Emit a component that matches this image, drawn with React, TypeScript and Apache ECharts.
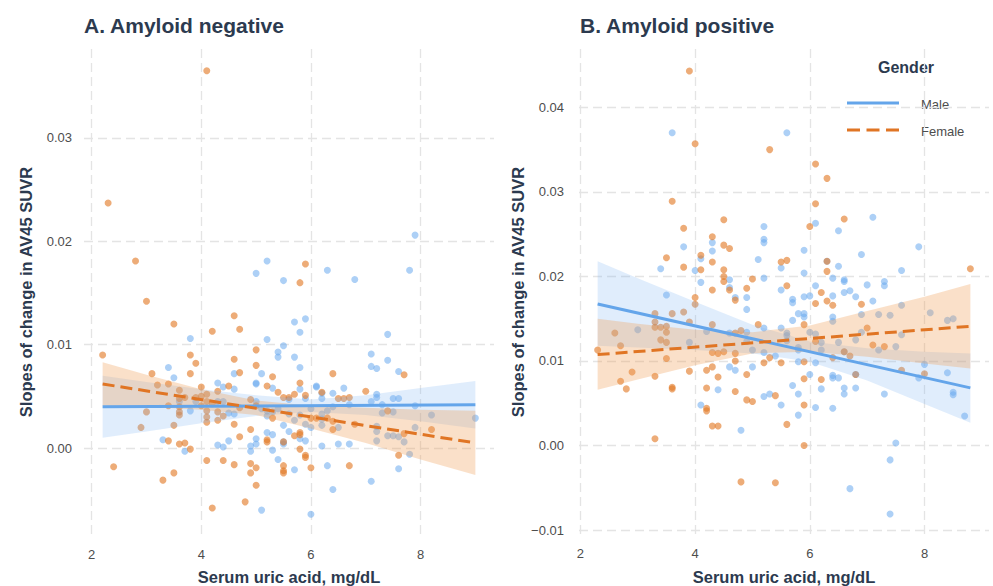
import React, { useEffect, useRef } from 'react';
import * as echarts from 'echarts';

const X_TICKS = [2, 4, 6, 8];
const Y_TICKS_A = [0, 0.01, 0.02, 0.03];
const Y_TICKS_B = [-0.01, 0, 0.01, 0.02, 0.03, 0.04];

const TITLE_A = 'A. Amyloid negative';
const TITLE_B = 'B. Amyloid positive';
const X_NAME = 'Serum uric acid, mg/dL';
const Y_NAME = 'Slopes of change in AV45 SUVR';
const LEGEND_TITLE = 'Gender';
const LEGEND_MALE = 'Male';
const LEGEND_FEMALE = 'Female';

// Panel A (amyloid negative) points [uric acid, slope]
const A_MALE = [
  [5.0, 0.0169], [5.2, 0.0181], [5.5, 0.0162], [6.3, 0.0172], [6.8, 0.0163], [7.8, 0.0172], [7.9, 0.0206],
  [5.7, 0.0122], [5.9, 0.0125], [5.8, 0.0112], [7.4, 0.0110], [3.8, 0.0106], [5.2, 0.0105], [5.5, 0.0099],
  [5.4, 0.0093], [5.4, 0.0088], [7.1, 0.0091], [5.7, 0.0088], [7.4, 0.0085], [7.1, 0.0079], [7.2, 0.0077],
  [3.4, 0.0078], [5.8, 0.0078], [4.6, 0.0072], [5.1, 0.0072], [7.6, 0.0074], [3.5, 0.0068], [4.3, 0.0063],
  [5.0, 0.0063], [5.0, 0.0062], [4.4, 0.0059], [5.3, 0.0058], [5.8, 0.0057], [6.1, 0.0059], [6.1, 0.0060],
  [6.6, 0.0058], [4.6, 0.0057], [6.2, 0.0053], [6.4, 0.0053], [7.2, 0.0052], [3.9, 0.0045], [5.6, 0.0047],
  [5.9, 0.0048], [6.7, 0.0042], [6.2, 0.0048], [7.2, 0.0049], [7.5, 0.0048], [7.6, 0.0048], [7.1, 0.0045],
  [4.3, 0.0045], [4.4, 0.0045], [5.0, 0.0045], [3.6, 0.0045], [5.1, 0.0038], [5.2, 0.0036], [5.4, 0.0038],
  [6.0, 0.0038], [6.4, 0.0040], [6.3, 0.0036], [7.3, 0.0042], [7.3, 0.0034], [7.5, 0.0035], [7.9, 0.0041],
  [3.8, 0.0036], [4.5, 0.0034], [4.6, 0.0033], [5.2, 0.0031], [5.3, 0.0035], [5.6, 0.0033], [5.8, 0.0032],
  [6.2, 0.0033], [6.2, 0.0028], [6.2, 0.0022], [8.2, 0.0032], [9.0, 0.0029], [5.7, 0.0027], [5.9, 0.0023],
  [6.0, 0.0020], [5.5, 0.0022], [6.5, 0.0020], [7.2, 0.0021], [7.2, 0.0016], [7.2, 0.0007], [7.9, 0.0020],
  [5.6, 0.0016], [5.2, 0.0015], [5.3, 0.0013], [7.4, 0.0012], [7.5, 0.0012], [7.6, 0.0011], [5.0, 0.0009],
  [5.8, 0.0009], [5.9, 0.0007], [3.3, 0.0008], [4.5, 0.0007], [5.0, 0.0004], [5.5, 0.0006], [5.5, 0.0004],
  [7.7, 0.0006], [6.5, 0.0004], [6.7, 0.0004], [3.7, -0.0003], [4.3, 0.0003], [4.4, 0.0001], [4.9, 0.0002],
  [4.9, -0.0003], [5.3, -0.0002], [6.2, 0.0002], [7.8, -0.0006], [5.4, -0.0011], [6.3, -0.0017],
  [5.7, -0.0021], [7.6, -0.0020], [7.1, -0.0032], [6.4, -0.0040], [5.1, -0.0060], [6.0, -0.0064],
];
const A_FEMALE = [
  [4.1, 0.0365], [2.3, 0.0237], [2.8, 0.0181], [5.9, 0.0178], [5.8, 0.0160],
  [3.0, 0.0142], [4.6, 0.0128], [3.5, 0.0120], [4.7, 0.0115], [4.2, 0.0113], [5.0, 0.0095], [2.2, 0.0090],
  [3.8, 0.0090], [3.9, 0.0082], [4.6, 0.0086], [5.0, 0.0080], [3.1, 0.0072], [3.8, 0.0072], [4.7, 0.0073],
  [6.4, 0.0072], [7.7, 0.0071], [5.3, 0.0069], [3.2, 0.0061], [3.4, 0.0062], [4.5, 0.0060], [4.0, 0.0059],
  [5.2, 0.0060], [5.8, 0.0063], [3.6, 0.0056], [4.3, 0.0055], [4.1, 0.0052], [5.4, 0.0054], [6.2, 0.0054],
  [7.0, 0.0055], [3.9, 0.0049], [4.0, 0.0050], [3.6, 0.0048], [3.7, 0.0049], [5.6, 0.0049], [5.5, 0.0049],
  [5.7, 0.0052], [5.9, 0.0051], [6.5, 0.0048], [6.6, 0.0048], [6.7, 0.0049], [4.9, 0.0047], [4.1, 0.0045],
  [4.2, 0.0043], [4.0, 0.0041], [3.4, 0.0041], [3.6, 0.0040], [4.7, 0.0039], [5.0, 0.0041], [7.4, 0.0036],
  [3.0, 0.0035], [3.6, 0.0035], [3.6, 0.0032], [4.1, 0.0036], [4.3, 0.0035], [5.3, 0.0029], [6.0, 0.0029],
  [6.1, 0.0029], [6.3, 0.0029], [4.4, 0.0031], [4.1, 0.0030], [4.1, 0.0025], [4.3, 0.0027], [6.4, 0.0026],
  [3.5, 0.0022], [2.9, 0.0020], [4.6, 0.0023], [6.8, 0.0023], [6.4, 0.0018], [8.2, 0.0018], [4.9, 0.0018],
  [5.8, 0.0015], [5.8, 0.0013], [5.7, 0.0012], [7.7, 0.0014], [4.7, 0.0011], [5.2, 0.0008], [5.2, 0.0006],
  [3.4, 0.0007], [5.5, 0.0006], [3.6, 0.0004], [3.7, 0.0005], [3.8, -0.0001], [5.8, -0.0001], [5.9, -0.0007],
  [5.9, -0.0009], [7.6, -0.0007], [4.1, -0.0012], [4.4, -0.0012], [4.6, -0.0016], [4.9, -0.0015],
  [2.4, -0.0018], [6.0, -0.0019], [6.7, -0.0017], [5.0, -0.0019], [4.9, -0.0024], [5.5, -0.0017],
  [5.5, -0.0022], [5.5, -0.0024], [3.5, -0.0024], [3.3, -0.0031], [5.0, -0.0036], [4.8, -0.0052], [4.2, -0.0058],
];

// Panel B (amyloid positive)
const B_MALE = [
  [3.6, 0.0370], [5.6, 0.0370], [6.1, 0.0263], [7.1, 0.0270], [5.2, 0.0259], [6.5, 0.0254], [5.2, 0.0244],
  [5.2, 0.0240], [4.3, 0.0240], [3.8, 0.0235], [7.9, 0.0235], [5.9, 0.0231], [4.3, 0.0230], [6.9, 0.0226],
  [4.1, 0.0221], [5.1, 0.0220], [6.3, 0.0218], [6.5, 0.0212], [3.4, 0.0209], [4.0, 0.0207], [5.5, 0.0210],
  [7.6, 0.0207], [5.9, 0.0204], [6.4, 0.0198], [6.6, 0.0196], [6.6, 0.0194], [5.2, 0.0198], [4.6, 0.0196],
  [4.1, 0.0193], [7.3, 0.0194], [7.3, 0.0189], [7.0, 0.0190], [6.1, 0.0189], [4.6, 0.0187], [5.5, 0.0184],
  [6.7, 0.0183], [6.6, 0.0181],
  [3.5, 0.0178], [4.7, 0.0175], [4.9, 0.0175], [5.7, 0.0173], [5.7, 0.0169], [5.9, 0.0176], [6.0, 0.0177],
  [6.4, 0.0177], [6.8, 0.0176], [7.1, 0.0171], [7.6, 0.0166], [4.9, 0.0161], [8.1, 0.0157], [6.9, 0.0155],
  [7.2, 0.0155], [7.4, 0.0154], [5.8, 0.0156], [5.9, 0.0156], [5.9, 0.0152], [6.4, 0.0152], [6.4, 0.0147],
  [8.4, 0.0148], [8.5, 0.0150], [5.7, 0.0148], [5.2, 0.0139], [3.0, 0.0137], [4.2, 0.0135], [4.9, 0.0134],
  [4.6, 0.0133], [5.5, 0.0139], [5.6, 0.0133], [5.6, 0.0130], [6.0, 0.0134], [6.1, 0.0132], [6.9, 0.0134],
  [7.6, 0.0131], [6.8, 0.0125], [6.5, 0.0122], [6.2, 0.0122], [3.9, 0.0122], [4.9, 0.0123], [7.5, 0.0117],
  [7.2, 0.0113], [5.0, 0.0113], [5.6, 0.0124], [5.8, 0.0116], [5.8, 0.0113], [6.2, 0.0113], [6.6, 0.0111],
  [5.2, 0.0110], [5.4, 0.0106], [6.1, 0.0098], [5.8, 0.0099], [8.0, 0.0096], [4.6, 0.0093], [4.7, 0.0089],
  [5.0, 0.0093], [8.4, 0.0086], [6.8, 0.0084], [6.0, 0.0084], [6.4, 0.0083], [6.4, 0.0080], [6.5, 0.0080],
  [7.9, 0.0080], [4.4, 0.0066], [5.7, 0.0071], [6.2, 0.0067], [6.6, 0.0068], [6.6, 0.0061], [6.8, 0.0068],
  [5.3, 0.0061], [5.2, 0.0058], [5.8, 0.0061], [7.3, 0.0061], [8.5, 0.0063], [8.5, 0.0060], [4.1, 0.0048],
  [5.5, 0.0048], [6.1, 0.0045], [6.4, 0.0044], [5.8, 0.0036], [8.7, 0.0035], [4.8, 0.0018], [7.5, 0.0003],
  [7.4, -0.0017], [6.7, -0.0051], [7.4, -0.0081],
];
const B_FEMALE = [
  [3.9, 0.0443], [4.0, 0.0357], [5.3, 0.0350], [6.1, 0.0333], [6.3, 0.0316], [3.6, 0.0289], [6.1, 0.0286],
  [4.5, 0.0267], [6.6, 0.0268], [3.8, 0.0257], [6.0, 0.0259], [4.3, 0.0247], [4.5, 0.0237], [4.6, 0.0233],
  [4.1, 0.0225], [3.5, 0.0222], [5.6, 0.0219], [5.5, 0.0217], [6.3, 0.0218], [4.3, 0.0217], [3.8, 0.0211],
  [4.1, 0.0208], [4.5, 0.0208], [8.8, 0.0209], [6.3, 0.0206], [4.5, 0.0200], [5.0, 0.0197], [4.5, 0.0194],
  [5.6, 0.0189], [4.9, 0.0186], [4.3, 0.0184], [4.6, 0.0184], [6.2, 0.0181],
  [4.0, 0.0175], [4.7, 0.0172], [6.1, 0.0168], [6.3, 0.0171], [6.4, 0.0166], [6.9, 0.0167], [4.0, 0.0167],
  [3.3, 0.0156], [3.6, 0.0156], [3.8, 0.0158], [3.9, 0.0146], [3.3, 0.0146], [3.3, 0.0140], [3.4, 0.0140],
  [3.5, 0.0141], [3.5, 0.0134], [4.3, 0.0143], [5.1, 0.0143], [5.9, 0.0143], [2.6, 0.0133], [4.8, 0.0136],
  [4.7, 0.0133], [7.0, 0.0139], [6.1, 0.0123], [3.4, 0.0125], [3.5, 0.0122], [2.7, 0.0118], [7.1, 0.0119],
  [7.3, 0.0117], [6.6, 0.0111], [2.3, 0.0113], [4.3, 0.0110], [4.4, 0.0109], [4.5, 0.0111], [4.7, 0.0109],
  [5.3, 0.0104], [6.7, 0.0106], [6.4, 0.0104], [3.5, 0.0103], [4.7, 0.0100], [5.5, 0.0098], [5.2, 0.0098],
  [5.9, 0.0099], [4.3, 0.0093], [4.2, 0.0089], [3.9, 0.0088], [2.9, 0.0087], [7.6, 0.0089], [8.0, 0.0085],
  [6.8, 0.0084], [4.9, 0.0084], [3.3, 0.0082], [4.4, 0.0081], [5.9, 0.0079], [6.2, 0.0078], [2.7, 0.0076],
  [2.8, 0.0067], [3.6, 0.0069], [3.6, 0.0067], [4.2, 0.0068], [4.7, 0.0064], [5.4, 0.0059], [4.9, 0.0054],
  [5.0, 0.0052], [5.9, 0.0048], [4.2, 0.0044], [4.2, 0.0041], [5.6, 0.0025], [4.3, 0.0023], [4.4, 0.0023],
  [3.3, 0.0008], [5.9, 0.0000], [4.8, -0.0043], [5.4, -0.0044],
];

// Fitted lines (end points) and confidence bands
const A_FIT_X = [2.2, 9.0];
const A_MALE_FIT = [0.0040, 0.0042];
const A_FEMALE_FIT = [0.0062, 0.0005];
const A_BAND_X = [2.2, 3, 4, 5, 6, 7, 8, 9.0];
const A_MALE_UP = [0.0070, 0.0064, 0.0057, 0.0051, 0.0047, 0.0051, 0.0058, 0.0065];
const A_MALE_LO = [0.0010, 0.0016, 0.0024, 0.0031, 0.0035, 0.0032, 0.0026, 0.0019];
const A_FEMALE_UP = [0.0083, 0.0071, 0.0057, 0.0046, 0.0041, 0.0039, 0.0037, 0.0036];
const A_FEMALE_LO = [0.0041, 0.0040, 0.0037, 0.0032, 0.0019, 0.0005, -0.0011, -0.0026];

const B_FIT_X = [2.3, 8.8];
const B_MALE_FIT = [0.01675, 0.00682];
const B_FEMALE_FIT = [0.01076, 0.0141];
const B_BAND_X = [2.3, 3, 4, 5, 6, 7, 8, 8.8];
const B_MALE_UP = [0.0218, 0.0198, 0.0170, 0.0143, 0.0123, 0.0115, 0.0111, 0.0109];
const B_MALE_LO = [0.0118, 0.0116, 0.0113, 0.0109, 0.0099, 0.0077, 0.0049, 0.0027];
const B_FEMALE_UP = [0.0150, 0.0144, 0.0137, 0.0134, 0.0142, 0.0159, 0.0176, 0.0191];
const B_FEMALE_LO = [0.0066, 0.0078, 0.0095, 0.0109, 0.0111, 0.0105, 0.0097, 0.0091];

const FONT = '"Liberation Sans", Arial, Helvetica, sans-serif';
const DARK = '#2c3a4f';
const TICK = '#4d4d4d';
const GRIDC = '#e4e4e4';
const MALE_PT = 'rgba(104,168,238,0.68)';
const FEMALE_PT = 'rgba(226,122,38,0.78)';
const MALE_LINE = '#64a5ea';
const FEMALE_LINE = '#e07524';
const MALE_BAND = 'rgba(125,178,242,0.24)';
const FEMALE_BAND = 'rgba(240,158,88,0.32)';

const fmtY = (v: number) => (v < -1e-9 ? '\u2212' : '') + Math.abs(v).toFixed(2);

function xAxisOpt(gi: number, min: number, max: number) {
  return {
    type: 'value', gridIndex: gi, min, max,
    axisLine: { show: false },
    axisTick: { show: false, customValues: X_TICKS },
    axisLabel: { customValues: X_TICKS, color: TICK, fontSize: 13, fontFamily: FONT, margin: 11 },
    splitLine: { show: true, lineStyle: { color: GRIDC, width: 1.3, type: [9, 5] } },
  };
}
function yAxisOpt(gi: number, min: number, max: number, ticks: number[], margin: number) {
  return {
    type: 'value', gridIndex: gi, min, max,
    axisLine: { show: false },
    axisTick: { show: false, customValues: ticks },
    axisLabel: { customValues: ticks, color: TICK, fontSize: 13, fontFamily: FONT, margin, formatter: fmtY },
    splitLine: { show: true, lineStyle: { color: GRIDC, width: 1.3, type: [9, 5] } },
  };
}

function scatter(data: number[][], color: string, idx: number) {
  return {
    type: 'scatter', xAxisIndex: idx, yAxisIndex: idx, data, symbolSize: 7, z: 2,
    itemStyle: { color }, silent: true,
  };
}
function band(xs: number[], up: number[], lo: number[], color: string, idx: number) {
  return {
    type: 'custom', xAxisIndex: idx, yAxisIndex: idx, z: 3, silent: true,
    data: [[xs[Math.floor(xs.length / 2)], (up[0] + lo[0]) / 2]],
    renderItem: (_p: any, api: any) => {
      const pts: number[][] = [];
      for (let i = 0; i < xs.length; i++) pts.push(api.coord([xs[i], up[i]]));
      for (let i = xs.length - 1; i >= 0; i--) pts.push(api.coord([xs[i], lo[i]]));
      return { type: 'polygon', shape: { points: pts }, style: { fill: color } };
    },
  };
}
function fit(xs: number[], ys: number[], color: string, dashed: boolean, idx: number) {
  return {
    type: 'line', xAxisIndex: idx, yAxisIndex: idx, z: 4, silent: true, showSymbol: false, symbol: 'none',
    data: xs.map((x, i) => [x, ys[i]]),
    lineStyle: { color, width: 3, type: dashed ? [12, 6] : 'solid' },
  };
}

export default function App() {
  const ref = useRef<HTMLDivElement>(null);
  useEffect(() => {
    if (!ref.current) return;
    const chart = echarts.init(ref.current, undefined, { renderer: 'svg' });
    chart.setOption({
      animation: false,
      backgroundColor: '#ffffff',
      textStyle: { fontFamily: FONT },
      grid: [
        { left: 84, top: 49, width: 410, height: 488 },
        { left: 579, top: 49, width: 410, height: 487 },
      ],
      xAxis: [xAxisOpt(0, 1.86, 9.34), xAxisOpt(1, 1.975, 9.125)],
      yAxis: [
        yAxisOpt(0, -0.0086, 0.0386, Y_TICKS_A, 12),
        yAxisOpt(1, -0.0107, 0.0469, Y_TICKS_B, 15),
      ],
      series: [
        scatter(A_MALE, MALE_PT, 0),
        scatter(A_FEMALE, FEMALE_PT, 0),
        band(A_BAND_X, A_MALE_UP, A_MALE_LO, MALE_BAND, 0),
        band(A_BAND_X, A_FEMALE_UP, A_FEMALE_LO, FEMALE_BAND, 0),
        fit(A_FIT_X, A_MALE_FIT, MALE_LINE, false, 0),
        fit(A_FIT_X, A_FEMALE_FIT, FEMALE_LINE, true, 0),
        scatter(B_MALE, MALE_PT, 1),
        scatter(B_FEMALE, FEMALE_PT, 1),
        band(B_BAND_X, B_MALE_UP, B_MALE_LO, MALE_BAND, 1),
        band(B_BAND_X, B_FEMALE_UP, B_FEMALE_LO, FEMALE_BAND, 1),
        fit(B_FIT_X, B_MALE_FIT, MALE_LINE, false, 1),
        fit(B_FIT_X, B_FEMALE_FIT, FEMALE_LINE, true, 1),
      ],
      graphic: [
        { type: 'text', x: 84, y: 25, style: { text: TITLE_A, fill: DARK, font: `bold 21px ${FONT}`, textAlign: 'left', textVerticalAlign: 'middle' } },
        { type: 'text', x: 580, y: 25, style: { text: TITLE_B, fill: DARK, font: `bold 21px ${FONT}`, textAlign: 'left', textVerticalAlign: 'middle' } },
        { type: 'text', x: 289, y: 577, style: { text: X_NAME, fill: DARK, font: `bold 16.5px ${FONT}`, textAlign: 'center', textVerticalAlign: 'middle' } },
        { type: 'text', x: 784, y: 577, style: { text: X_NAME, fill: DARK, font: `bold 16.5px ${FONT}`, textAlign: 'center', textVerticalAlign: 'middle' } },
        { type: 'text', x: 26, y: 292, rotation: Math.PI / 2, style: { text: Y_NAME, fill: DARK, font: `bold 16.5px ${FONT}`, textAlign: 'center', textVerticalAlign: 'middle' } },
        { type: 'text', x: 518, y: 292, rotation: Math.PI / 2, style: { text: Y_NAME, fill: DARK, font: `bold 16.5px ${FONT}`, textAlign: 'center', textVerticalAlign: 'middle' } },
        { type: 'text', x: 906, y: 67, style: { text: LEGEND_TITLE, fill: DARK, font: `bold 16px ${FONT}`, textAlign: 'center', textVerticalAlign: 'middle' } },
        { type: 'line', shape: { x1: 847, y1: 103, x2: 899, y2: 103 }, style: { stroke: MALE_LINE, lineWidth: 3 } },
        { type: 'line', shape: { x1: 847, y1: 130, x2: 899, y2: 130 }, style: { stroke: FEMALE_LINE, lineWidth: 3, lineDash: [13, 6.5] } },
        { type: 'text', x: 921, y: 104, style: { text: LEGEND_MALE, fill: TICK, font: `13px ${FONT}`, textAlign: 'left', textVerticalAlign: 'middle' } },
        { type: 'text', x: 921, y: 131, style: { text: LEGEND_FEMALE, fill: TICK, font: `13px ${FONT}`, textAlign: 'left', textVerticalAlign: 'middle' } },
      ],
    });
    return () => chart.dispose();
  }, []);
  return <div ref={ref} style={{ position: 'fixed', left: 0, top: 0, width: 993, height: 586 }} />;
}
